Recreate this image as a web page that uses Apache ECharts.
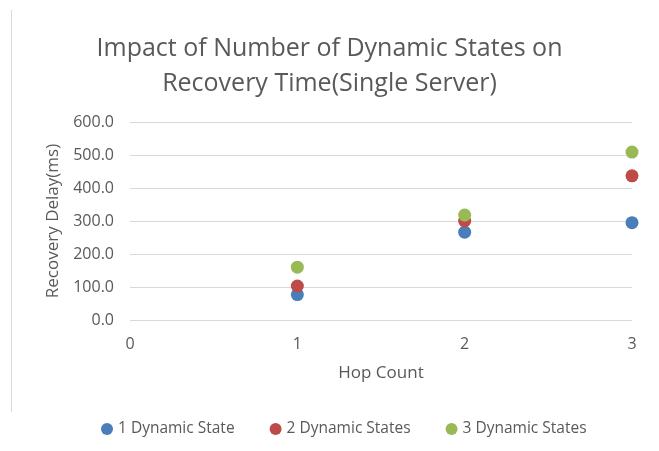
<!DOCTYPE html>
<html>
<head>
<meta charset="utf-8">
<script src="https://cdn.jsdelivr.net/npm/echarts@6/dist/echarts.min.js"></script>
<style>
  html, body { margin: 0; padding: 0; background: #fff; }
  #chart { width: 659px; height: 451px; }
</style>
</head>
<body>
<div id="chart"></div>
<script>
const hopCount = [1, 2, 3]
const oneState = [77, 266, 295]
const twoStates = [103, 300, 437]
const threeStates = [160, 318, 509]
const seriesNames = ['1 Dynamic State', '2 Dynamic States', '3 Dynamic States']
const colors = ['#4a7ebb', '#be4b48', '#98b954']

const font = '"Open Sans", sans-serif'
const txt = '#595959'

function pairs(vals) {
    return hopCount.map((h, i) => [h, vals[i]])
}

const chart = echarts.init(document.getElementById('chart'))
const option = {
    backgroundColor: '#fff',
    animation: false,
    color: colors,
    title: {
        text: 'Impact of Number of Dynamic States on\nRecovery Time(Single Server)',
        left: 'center',
        top: 26,
        textStyle: {
            fontFamily: font,
            fontSize: 25,
            fontWeight: 'normal',
            color: txt,
            lineHeight: 35
        }
    },
    legend: {
        bottom: 9,
        left: 96,
        icon: 'circle',
        itemWidth: 12,
        itemHeight: 12,
        itemGap: 35,
        textStyle: { fontFamily: font, fontSize: 15.5, color: txt },
        data: seriesNames
    },
    grid: { left: 130, right: 27, top: 122, bottom: 131 },
    xAxis: {
        type: 'value',
        min: 0,
        max: 3,
        interval: 1,
        name: 'Hop Count',
        nameLocation: 'middle',
        nameGap: 45,
        nameTextStyle: { fontFamily: font, fontSize: 17, color: txt },
        axisLine: { show: false },
        axisTick: { show: false },
        splitLine: { show: false },
        axisLabel: { fontFamily: font, fontSize: 16, color: txt, margin: 16 }
    },
    yAxis: {
        type: 'value',
        min: 0,
        max: 600,
        interval: 100,
        name: 'Recovery Delay(ms)',
        nameLocation: 'middle',
        nameGap: 68,
        nameTextStyle: { fontFamily: font, fontSize: 17, color: txt },
        axisLine: { show: false },
        axisTick: { show: false },
        splitLine: { lineStyle: { color: '#d9d9d9', width: 1 } },
        axisLabel: {
            fontFamily: font, fontSize: 16, color: txt, margin: 16,
            formatter: v => v.toFixed(1)
        }
    },
    graphic: [{
        type: 'line',
        shape: { x1: 11.5, y1: 10, x2: 11.5, y2: 412 },
        style: { stroke: '#d9d9d9', lineWidth: 1 }
    }],
    series: [
        { name: seriesNames[0], type: 'scatter', symbolSize: 13, itemStyle: { opacity: 1 }, data: pairs(oneState) },
        { name: seriesNames[1], type: 'scatter', symbolSize: 13, itemStyle: { opacity: 1 }, data: pairs(twoStates) },
        { name: seriesNames[2], type: 'scatter', symbolSize: 13, itemStyle: { opacity: 1 }, data: pairs(threeStates) }
    ]
}
chart.setOption(option)
</script>
</body>
</html>
